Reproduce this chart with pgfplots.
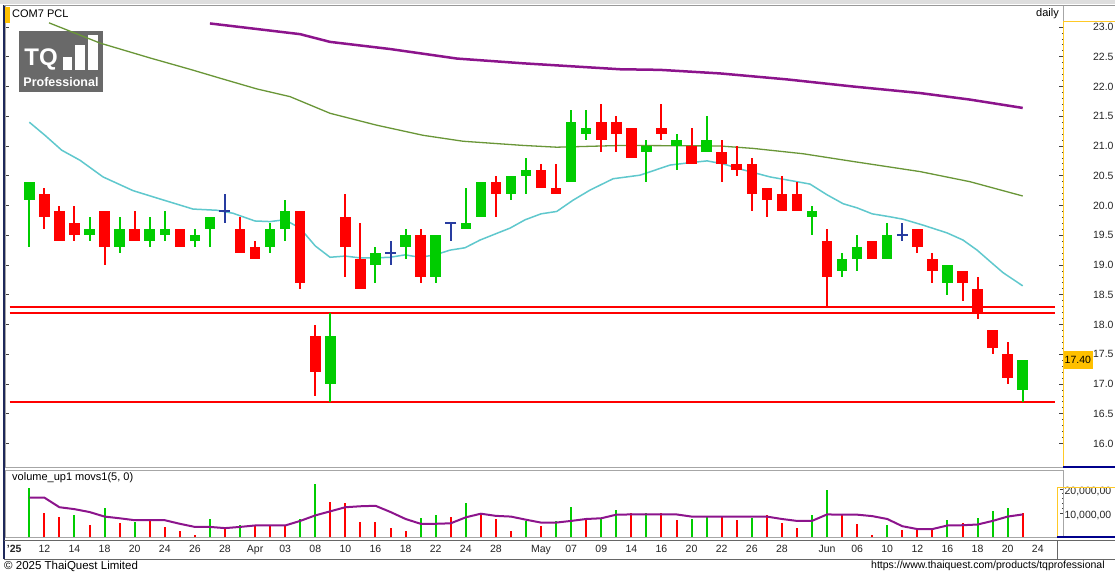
\documentclass[border=0pt]{standalone}
\usepackage{fontspec}
\setmainfont{Liberation Sans}
\usepackage{pgfplots}
\usepackage{pgfplotstable}
\pgfplotsset{compat=1.18}

\definecolor{cgreen}{RGB}{0,204,0}
\definecolor{cred}{RGB}{255,0,0}
\definecolor{cblue}{RGB}{40,60,160}
\definecolor{macyan}{RGB}{95,200,205}
\definecolor{magreen}{RGB}{105,150,55}
\definecolor{mapurple}{RGB}{140,20,140}
\definecolor{lorange}{RGB}{255,192,0}
\definecolor{logogray}{RGB}{105,105,105}
\definecolor{navy}{RGB}{30,40,90}

\pgfplotstableread{
x o h l c
0 20.1 20.4 19.3 20.4
4 19.5 19.8 19.4 19.6
6 19.3 19.8 19.2 19.6
8 19.4 19.8 19.3 19.6
9 19.5 19.9 19.4 19.6
11 19.4 19.6 19.3 19.5
12 19.6 19.8 19.3 19.8
16 19.3 19.7 19.2 19.6
17 19.6 20.1 19.4 19.9
20 17.0 18.2 16.7 17.8
23 19.0 19.3 18.7 19.2
25 19.3 19.6 19.1 19.5
27 18.8 19.5 18.7 19.5
29 19.6 20.3 19.6 19.7
30 19.8 20.4 19.8 20.4
32 20.2 20.5 20.1 20.5
33 20.5 20.8 20.2 20.6
36 20.4 21.6 20.4 21.4
37 21.2 21.6 21.1 21.3
41 20.9 21.1 20.4 21.0
43 21.0 21.2 20.6 21.1
45 20.9 21.5 20.9 21.1
52 19.8 20.0 19.5 19.9
54 18.9 19.2 18.8 19.1
55 19.1 19.5 18.9 19.3
57 19.1 19.7 19.1 19.5
61 18.7 19.0 18.5 19.0
66 16.9 17.4 16.7 17.4
}\greenc

\pgfplotstableread{
x o h l c
1 20.2 20.3 19.6 19.8
2 19.9 20.0 19.4 19.4
3 19.7 20.0 19.4 19.5
5 19.9 19.9 19.0 19.3
7 19.6 19.9 19.4 19.4
10 19.6 19.6 19.3 19.3
14 19.6 19.8 19.2 19.2
15 19.3 19.4 19.1 19.1
18 19.9 19.9 18.6 18.7
19 17.8 18.0 16.8 17.2
21 19.8 20.2 18.8 19.3
22 19.1 19.7 18.6 18.6
26 19.5 19.6 18.7 18.8
31 20.4 20.5 19.8 20.2
34 20.6 20.7 20.3 20.3
35 20.3 20.7 20.2 20.2
38 21.4 21.7 20.9 21.1
39 21.4 21.5 20.9 21.2
40 21.3 21.3 20.8 20.8
42 21.3 21.7 21.1 21.2
44 21.0 21.3 20.7 20.7
46 20.9 21.1 20.4 20.7
47 20.7 21.0 20.5 20.6
48 20.7 20.8 19.9 20.2
49 20.3 20.3 19.8 20.1
50 20.2 20.5 19.9 19.9
51 20.2 20.4 19.9 19.9
53 19.4 19.6 18.3 18.8
56 19.4 19.4 19.1 19.1
59 19.6 19.6 19.2 19.3
60 19.1 19.2 18.7 18.9
62 18.9 18.9 18.4 18.7
63 18.6 18.8 18.1 18.2
64 17.9 17.9 17.5 17.6
65 17.5 17.7 17.0 17.1
}\redc

\pgfplotstableread{
x o h l c
13 19.9 20.2 19.7 19.9
24 19.2 19.4 19.0 19.2
28 19.7 19.7 19.4 19.7
58 19.5 19.7 19.4 19.5
}\bluec

\pgfplotstableread{
x v
0 20.4
3 9.3
5 11.9
7 6.4
12 7.3
14 5.1
18 7.5
19 21.9
26 7.8
27 9.3
29 14.2
33 6.7
35 6.7
36 12.7
38 7.5
39 11.2
41 10.0
44 7.5
45 8.5
48 7.9
52 9.0
53 19.4
57 4.9
61 7.2
63 7.8
64 10.9
65 12.2
}\greenv

\pgfplotstableread{
x v
1 10.1
2 8.2
4 4.8
6 6.0
8 7.0
9 4.2
10 2.7
11 1.0
13 3.7
15 4.8
16 5.1
17 4.8
20 14.6
21 14.2
22 6.4
23 6.4
24 3.7
25 2.4
28 8.2
30 9.3
31 7.5
32 2.7
34 4.5
37 7.2
40 10.0
42 10.0
43 7.2
46 8.5
47 7.2
49 9.0
50 6.0
51 3.7
54 9.0
55 5.5
56 1.0
58 3.0
59 3.4
60 3.0
62 6.0
66 10.0
}\redv

\pgfplotstableread{
x m
0 16.4
1 16.4
2 12.4
3 11.6
4 10.4
5 8.5
6 7.8
7 7.0
8 7.0
9 7.0
10 5.5
11 4.2
12 4.2
13 3.7
14 4.2
15 4.8
16 4.8
17 4.8
18 6.7
19 9.0
20 10.7
21 12.4
22 12.8
23 13.0
24 10.4
25 7.5
26 5.5
27 5.5
28 5.7
29 8.2
30 9.7
31 8.8
32 8.5
33 7.2
34 6.0
35 6.0
36 6.7
37 7.5
38 7.8
39 9.3
40 9.4
41 9.4
42 9.4
43 9.4
44 8.5
45 8.5
46 8.5
47 8.5
48 8.5
49 8.5
50 7.5
51 6.7
52 6.7
53 9.4
54 9.3
55 9.3
56 8.7
57 7.5
58 4.5
59 3.3
60 3.3
61 4.8
62 4.9
63 5.2
64 6.7
65 8.5
66 9.4
}\volma

\begin{document}
\begin{tikzpicture}
\useasboundingbox (0pt,0pt) rectangle (1115pt,573pt);
\fill[white] (0pt,0pt) rectangle (1115pt,573pt);
\fill[black!13] (0pt,569pt) rectangle (1115pt,573pt);

% logo
\fill[logogray] (19pt,481pt) rectangle (103pt,542pt);
\node[white, font=\bfseries\fontsize{24}{26}\selectfont, inner sep=0pt] at (41pt,514pt) {TQ};
\fill[white] (63pt,503pt) rectangle (72pt,516pt);
\fill[white] (75pt,503pt) rectangle (85pt,528pt);
\fill[white] (88pt,503pt) rectangle (98pt,538pt);
\node[white, font=\bfseries\fontsize{12.5}{14}\selectfont, inner sep=0pt] at (61pt,491pt) {Professional};

\begin{axis}[
  at={(5pt,106pt)}, anchor=south west, scale only axis,
  width=1058pt, height=462pt,
  xmin=-1.615, xmax=68.68, ymin=15.605, ymax=23.37, clip=false,
  axis line style={draw=black!35, line width=0.8pt},
  xtick=\empty,
  ytick={16,16.5,...,23}, minor y tick num=4,
  ytick pos=both, yticklabel pos=right,
  tick align=inside, major tick length=4pt, minor tick length=1.5pt,
  tick style={black!75, line width=0.8pt},
  yticklabel style={anchor=west, xshift=26.5pt, font=\fontsize{10.5}{12}\selectfont, text=black!85},
  /pgf/number format/.cd, fixed, fixed zerofill, precision=1, assume math mode=true]

% support / resistance lines
\addplot[cred, line width=2pt, forget plot] coordinates {(-1.3,18.3) (68.15,18.3)};
\addplot[cred, line width=2pt, forget plot] coordinates {(-1.3,18.2) (68.15,18.2)};
\addplot[cred, line width=2pt, forget plot] coordinates {(-1.3,16.7) (68.15,16.7)};

% moving averages
\addplot[mapurple, line width=2.5pt, forget plot] coordinates {
(12.0,23.06) (17.99,22.88) (19.98,22.75) (23.97,22.63) (28.40,22.47) (32.80,22.39) (39.25,22.29) (41.9,22.28) (45.89,22.22) (50.32,22.12) (54.73,22.00) (59.18,21.89) (62.50,21.78) (66.0,21.64)};
\addplot[magreen, line width=1.3pt, forget plot] coordinates {
(1.31,23.07) (4.70,22.73) (8.02,22.48) (10.67,22.29) (12.67,22.14) (15.11,21.96) (17.32,21.83) (19.98,21.55) (23.08,21.35) (26.16,21.18) (28.82,21.08) (32.80,21.01) (35.04,20.98) (39.45,21.01) (45.89,21.00) (48.08,20.96) (51.41,20.87) (54.73,20.74) (59.18,20.57) (62.50,20.40) (66.0,20.16)};
\addplot[macyan, line width=1.5pt, forget plot] coordinates {
(0,21.40) (1.04,21.18) (2.15,20.93) (3.37,20.76) (4.90,20.48) (6.89,20.25) (8.68,20.11) (10.88,19.94) (12.47,19.92) (13.53,19.87) (14.99,19.74) (15.99,19.73) (16.98,19.76) (17.99,19.62) (19.0,19.32) (19.98,19.13) (20.98,19.15) (21.97,19.12) (22.97,19.12) (23.97,19.13) (24.96,19.17) (25.96,19.13) (26.96,19.17) (27.95,19.25) (28.95,19.29) (29.95,19.42) (30.94,19.52) (31.94,19.62) (32.94,19.76) (34.0,19.86) (35.04,19.90) (36.13,20.09) (37.26,20.26) (38.79,20.45) (40.58,20.51) (42.57,20.68) (43.90,20.72) (45.03,20.75) (46.09,20.70) (47.42,20.60) (49.22,20.48) (51.01,20.40) (51.87,20.36) (53.0,20.18) (54.07,20.03) (55.0,19.96) (56.0,19.86) (57.19,19.81) (58.05,19.77) (59.38,19.67) (60.97,19.54) (62.03,19.42) (62.97,19.25) (63.83,19.06) (64.7,18.87) (66.0,18.65)};

% green candles
\addplot[draw=none, mark=none, forget plot,
  error bars/.cd, y dir=both, y explicit, error mark=none,
  error bar style={draw=cgreen, line width=2pt}]
  table[x=x, y expr={(\thisrow{h}+\thisrow{l})/2}, y error expr={(\thisrow{h}-\thisrow{l})/2}] {\greenc};
\addplot[draw=none, mark=none, forget plot,
  error bars/.cd, y dir=both, y explicit, error mark=none,
  error bar style={draw=cgreen, line width=10.5pt}]
  table[x=x, y expr={(\thisrow{o}+\thisrow{c})/2}, y error expr={abs(\thisrow{c}-\thisrow{o})/2}] {\greenc};
% red candles
\addplot[draw=none, mark=none, forget plot,
  error bars/.cd, y dir=both, y explicit, error mark=none,
  error bar style={draw=cred, line width=2pt}]
  table[x=x, y expr={(\thisrow{h}+\thisrow{l})/2}, y error expr={(\thisrow{h}-\thisrow{l})/2}] {\redc};
\addplot[draw=none, mark=none, forget plot,
  error bars/.cd, y dir=both, y explicit, error mark=none,
  error bar style={draw=cred, line width=10.5pt}]
  table[x=x, y expr={(\thisrow{o}+\thisrow{c})/2}, y error expr={abs(\thisrow{c}-\thisrow{o})/2}] {\redc};
% doji candles
\addplot[draw=none, mark=none, forget plot,
  error bars/.cd, y dir=both, y explicit, error mark=none,
  error bar style={draw=cblue, line width=2pt}]
  table[x=x, y expr={(\thisrow{h}+\thisrow{l})/2}, y error expr={(\thisrow{h}-\thisrow{l})/2}] {\bluec};
\addplot[only marks, mark=-, mark size=5.5pt, mark options={draw=cblue, line width=2pt}, forget plot]
  table[x=x, y=o] {\bluec};

\node[fill=lorange, inner xsep=1.5pt, inner ysep=0pt, minimum height=18pt, anchor=west,
  font=\fontsize{10.5}{12}\selectfont] at (axis cs:68.68,17.4) {17.40};
\end{axis}

\begin{axis}[
  at={(5pt,36pt)}, anchor=south west, scale only axis,
  width=1058pt, height=67pt,
  xmin=-1.615, xmax=68.68, ymin=0, ymax=27.9, clip=false,
  axis line style={draw=black!35, line width=0.8pt},
  xtick={-1,1,3,5,7,9,11,13,15,17,19,21,23,25,27,29,31,34,36,38,40,42,44,46,48,50,53,55,57,59,61,63,65,67},
  xticklabels={\textbf{'25},12,14,18,20,24,26,28,Apr,03,08,10,16,18,22,24,28,May,07,09,14,16,20,22,26,28,Jun,06,10,12,16,18,20,24},
  x tick style={draw=none},
  xticklabel style={font=\fontsize{10.5}{12}\selectfont, yshift=-4pt, text=black!85},
  typeset ticklabels with strut,
  ytick={10,20}, yticklabels={{10,000,00},{20,000,00}},
  minor y tick num=4,
  ytick pos=right, yticklabel pos=right,
  tick align=inside, major tick length=3pt, minor tick length=1.5pt,
  y tick style={black!75, line width=0.8pt},
  yticklabel style={anchor=west, xshift=-2pt, yshift=-3pt, font=\fontsize{10.5}{12}\selectfont, text=black!85}]
\addplot[ycomb, cgreen, line width=2pt, mark=none, forget plot] table[x=x, y=v] {\greenv};
\addplot[ycomb, cred, line width=2pt, mark=none, forget plot] table[x=x, y=v] {\redv};
\addplot[mapurple, line width=2pt, forget plot] table[x=x, y=m] {\volma};
\end{axis}

% frame decorations
\draw[navy, line width=1.5pt] (4pt,14pt) -- (4pt,568pt);
\draw[black!40, line width=0.8pt] (4pt,568pt) -- (1115pt,568pt);
\draw[lorange!85, line width=1pt] (1063pt,106pt) -- (1063pt,551pt) -- (1115pt,551pt);
\draw[blue!55!black, line width=1.5pt] (1063pt,106pt) -- (1115pt,106pt);
\draw[lorange!85, line width=1pt] (1057pt,36pt) -- (1057pt,86pt) -- (1115pt,86pt);
\draw[blue!55!black, line width=1.5pt] (1057pt,36pt) -- (1115pt,36pt);
\draw[black!60, line width=0.8pt] (4pt,33pt) -- (1115pt,33pt);
\draw[black!60, line width=0.8pt] (4pt,14pt) -- (1115pt,14pt);
\draw[black!60, line width=0.8pt] (1057pt,14pt) -- (1057pt,33pt);

\fill[lorange] (5pt,550pt) rectangle (10pt,566pt);
\node[anchor=west, inner sep=0pt, font=\fontsize{11}{13}\selectfont] at (12pt,559pt) {COM7 PCL};
\node[anchor=east, inner sep=0pt, font=\fontsize{11}{13}\selectfont] at (1059pt,559pt) {daily};
\node[anchor=west, inner sep=0pt, font=\fontsize{11}{13}\selectfont] at (12pt,95pt) {volume\_up1 movs1(5, 0)};
\node[anchor=west, inner sep=0pt, font=\fontsize{11.5}{13}\selectfont] at (4pt,7pt) {\textcopyright{} 2025 ThaiQuest Limited};
\node[anchor=west, inner sep=0pt, font=\fontsize{10.5}{12}\selectfont] at (871pt,7pt) {https://www.thaiquest.com/products/tqprofessional};
\end{tikzpicture}
\end{document}
